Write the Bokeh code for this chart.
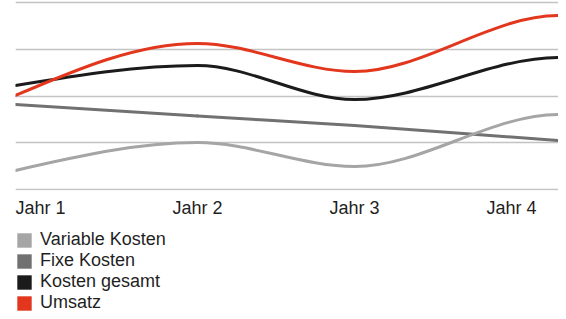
from bokeh.plotting import figure
from bokeh.models import FixedTicker, Range1d, Legend, LegendItem
from bokeh.layouts import column
from bokeh.embed import file_html
from bokeh.resources import INLINE

# ---- data ----
categories = ["Jahr 1", "Jahr 2", "Jahr 3", "Jahr 4"]
variable_kosten = [10.2, 25.1, 12.3, 40.1]
fixe_kosten = [45.5, 39.3, 34.2, 26.2]
kosten_gesamt = [55.6, 66.3, 48.1, 70.6]
umsatz = [50.3, 78.1, 63.1, 93.0]
grid_values = [0, 25, 50, 75, 100]

series_names = ["Variable Kosten", "Fixe Kosten", "Kosten gesamt", "Umsatz"]
series_values = [variable_kosten, fixe_kosten, kosten_gesamt, umsatz]
series_colors = ["#a5a5a5", "#717171", "#1b1b1b", "#e2371d"]
draw_order = [1, 0, 2, 3]

FONT = "Liberation Sans"
TEXT = "#1f1f1f"

# ---- layout constants (pixels) ----
W = 558
H1 = 229
H2 = 311 - H1
FRAME_LEFT = 15
FRAME_H = 190
FRAME_W = W - FRAME_LEFT
PX_PER_CAT = 157.0
FIRST_LABEL_OFFSET = 25.0
GLYPH = 18  # legend area glyphs are inset by 10% -> ~14px squares

x_lo = -FIRST_LABEL_OFFSET / PX_PER_CAT
x_hi = x_lo + FRAME_W / PX_PER_CAT
px_per_val = 187.0 / 100.0
y_lo = -1 / px_per_val
y_hi = 100 + 2 / px_per_val

p = figure(width=W, height=H1, output_backend="svg", toolbar_location=None,
           x_range=Range1d(x_lo, x_hi), y_range=Range1d(y_lo, y_hi),
           y_axis_location=None, min_border_left=FRAME_LEFT,
           min_border_right=0, min_border_top=0, min_border_bottom=H1 - FRAME_H,
           outline_line_color=None, background_fill_color="white")

p.xgrid.grid_line_color = None
p.ygrid.ticker = FixedTicker(ticks=grid_values)
p.ygrid.grid_line_color = "#c3c3c3"
p.ygrid.grid_line_width = 1.5

ax = p.xaxis[0]
ax.ticker = FixedTicker(ticks=list(range(len(categories))))
ax.major_label_overrides = {i: c for i, c in enumerate(categories)}
ax.axis_line_color = None
ax.major_tick_line_color = None
ax.minor_tick_line_color = None
ax.major_tick_out = 0
ax.major_tick_in = 0
ax.major_label_standoff = 7
ax.major_label_text_font = FONT
ax.major_label_text_font_size = "18px"
ax.major_label_text_color = TEXT


def tangents(xs, ys):
    n = len(xs)
    h = [xs[i + 1] - xs[i] for i in range(n - 1)]
    s = [(ys[i + 1] - ys[i]) / h[i] for i in range(n - 1)]
    m = [0.0] * n
    for i in range(1, n - 1):
        if s[i - 1] * s[i] <= 0:
            m[i] = 0.0
        else:
            pm = (s[i - 1] * h[i] + s[i] * h[i - 1]) / (h[i - 1] + h[i])
            sign = 1.0 if s[i] > 0 else -1.0
            m[i] = sign * min(2 * abs(s[i - 1]), 2 * abs(s[i]), abs(pm))
    m[0] = (3 * s[0] - m[1]) / 2
    m[n - 1] = m[n - 2]
    return m


x_pts = [x_lo, 1, 2, x_hi]

for k in draw_order:
    ys = series_values[k]
    m = tangents(x_pts, ys)
    x0, y0, x1, y1, cx0, cy0, cx1, cy1 = ([] for _ in range(8))
    for i in range(len(x_pts) - 1):
        hh = x_pts[i + 1] - x_pts[i]
        x0.append(x_pts[i]); y0.append(ys[i])
        x1.append(x_pts[i + 1]); y1.append(ys[i + 1])
        cx0.append(x_pts[i] + hh / 3); cy0.append(ys[i] + m[i] * hh / 3)
        cx1.append(x_pts[i + 1] - hh / 3); cy1.append(ys[i + 1] - m[i + 1] * hh / 3)
    p.bezier(x0=x0, y0=y0, x1=x1, y1=y1, cx0=cx0, cy0=cy0, cx1=cx1, cy1=cy1,
             line_color=series_colors[k], line_width=3, line_cap="round")

# ---- legend figure ----
p2 = figure(width=W, height=H2, output_backend="svg", toolbar_location=None,
            x_axis_location=None, y_axis_location=None,
            min_border_left=13, min_border_right=0, min_border_top=0,
            min_border_bottom=0, outline_line_color=None)
p2.grid.visible = False

nan = float("nan")
items = []
for name, col in zip(series_names, series_colors):
    r = p2.quad(left=[nan], right=[nan], top=[nan], bottom=[nan],
                fill_color=col, line_color=None)
    items.append(LegendItem(label=name, renderers=[r]))

legend = Legend(items=items, location="top_left", margin=0, padding=0,
                glyph_width=GLYPH, glyph_height=GLYPH, label_standoff=7, spacing=0,
                label_height=20, label_text_font_size="18px", label_text_font=FONT,
                label_text_color=TEXT, border_line_color=None, background_fill_alpha=0)
p2.add_layout(legend)

layout = column(p, p2, spacing=0)
open("out.html", "w").write(file_html(layout, INLINE))
